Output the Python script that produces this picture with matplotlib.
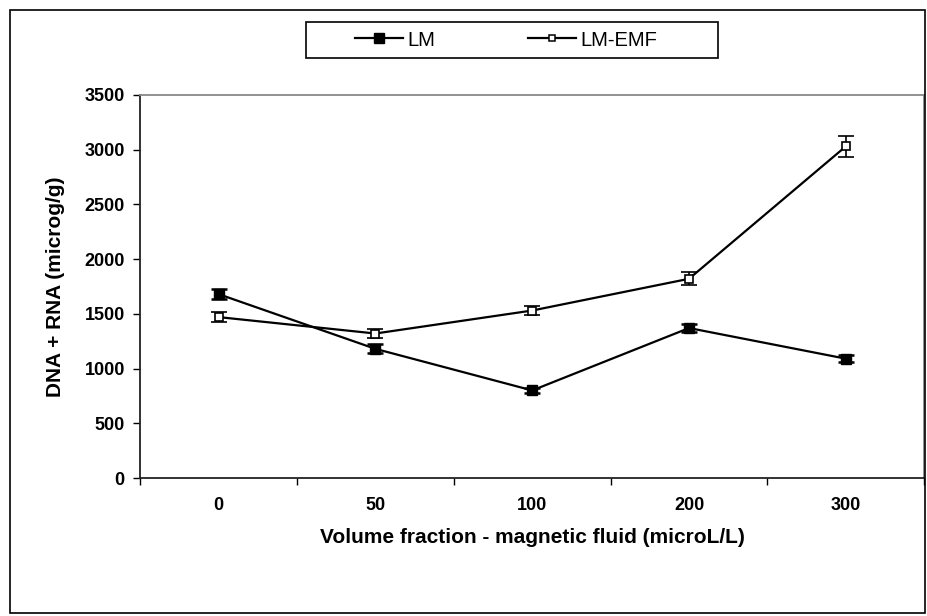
import matplotlib.pyplot as plt
from matplotlib.lines import Line2D
from matplotlib.patches import Rectangle

# categorias do eixo x (volume de fluido magnético)
categorias = ['0', '50', '100', '200', '300']

# valores
lm = [1680, 1180, 800, 1370, 1090]
lm_err = [45, 40, 25, 40, 30]
lm_emf = [1470, 1320, 1530, 1820, 3030]
lm_emf_err = [45, 45, 45, 60, 95]

plt.rcParams['font.family'] = ['Liberation Sans', 'DejaVu Sans']

W, H = 928, 616
fig = plt.figure(figsize=(W / 100, H / 100), dpi=100)
ax = fig.add_axes([0.151, 0.224, 0.845, 0.622])

x = list(range(len(categorias)))

ax.errorbar(x, lm, yerr=lm_err, color='black', lw=1.6, marker='s', ms=7,
            mfc='black', mec='black', capsize=6, capthick=1.8, elinewidth=1.2)
ax.errorbar(x, lm_emf, yerr=lm_emf_err, color='black', lw=1.6, marker='s', ms=5.5,
            mfc='white', mec='black', mew=1.2, capsize=6, capthick=1.8, elinewidth=1.2)

ax.set_xlim(-0.5, len(categorias) - 0.5)
ax.set_ylim(0, 3500)
ax.set_yticks(range(0, 3501, 500))
ax.set_xticks(x)
ax.set_xticklabels(categorias)
# marcas do eixo x entre as categorias, no estilo Excel
ax.set_xticks([i - 0.5 for i in range(len(categorias) + 1)], minor=True)
ax.tick_params(axis='x', which='major', length=0, pad=14)
ax.tick_params(axis='x', which='minor', length=5, direction='out', width=1)
ax.tick_params(axis='y', length=5, direction='out', width=1, pad=6)
for lbl in ax.get_xticklabels() + ax.get_yticklabels():
    lbl.set_fontweight('bold')
    lbl.set_fontsize(13)

for s in ['left', 'bottom']:
    ax.spines[s].set_color('#222222')
    ax.spines[s].set_linewidth(1.3)
for s in ['top', 'right']:
    ax.spines[s].set_color('#888888')
    ax.spines[s].set_linewidth(1.3)

ax.set_xlabel('Volume fraction - magnetic fluid (microL/L)', fontweight='bold',
              fontsize=15, labelpad=10)
ax.set_ylabel('DNA + RNA (microg/g)', fontweight='bold', fontsize=15, labelpad=14)

# legenda sem barras de erro, como no original
handles = [
    Line2D([], [], color='black', lw=1.6, marker='s', ms=7, mfc='black', mec='black'),
    Line2D([], [], color='black', lw=1.6, marker='s', ms=5, mfc='white', mec='black', mew=1.1),
]
leg = fig.legend(handles, ['LM', 'LM-EMF'], loc='center', bbox_to_anchor=(506 / W, 1 - 40 / H),
                 ncol=2, frameon=False, fontsize=14.5, handlelength=2.4,
                 columnspacing=4.6, handletextpad=0.2, borderpad=0, borderaxespad=0)
# caixa da legenda desenhada à parte para ter o tamanho do original
fig.patches.append(Rectangle((306 / W, 1 - 58 / H), 412 / W, 36 / H, transform=fig.transFigure,
                             fill=False, edgecolor='black', lw=1.2))

# moldura externa do gráfico
fig.patches.append(Rectangle((0.011, 0.005), 0.986, 0.979, transform=fig.transFigure,
                             fill=False, edgecolor='black', lw=1.2))

plt.savefig('out.png', dpi=100)
